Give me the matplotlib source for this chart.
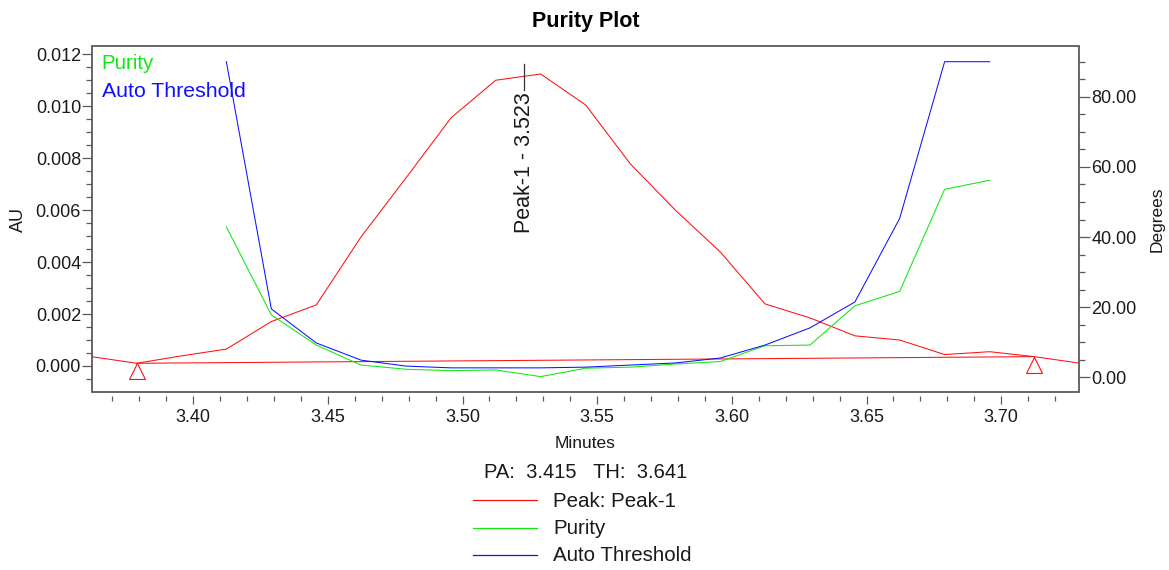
import matplotlib
matplotlib.use('Agg')
import matplotlib.pyplot as plt
from matplotlib.path import Path
from matplotlib.lines import Line2D
from matplotlib.patches import Rectangle
from matplotlib.ticker import MultipleLocator, FormatStrFormatter

plt.rcParams['font.family'] = ['Liberation Sans', 'DejaVu Sans']

# ---------------- data ----------------
times = [3.3623, 3.3790, 3.3957, 3.4123, 3.4290, 3.4457, 3.4623, 3.4790,
         3.4957, 3.5123, 3.5290, 3.5457, 3.5623, 3.5790, 3.5957, 3.6123,
         3.6290, 3.6457, 3.6623, 3.6790, 3.6957, 3.7123, 3.7290]
peak_au = [0.000358, 0.000104, 0.00039, 0.00065, 0.00171, 0.00235, 0.00497,
           0.00724, 0.00955, 0.01100, 0.01124, 0.01005, 0.00778, 0.00600,
           0.00439, 0.00239, 0.00185, 0.00116, 0.00100, 0.00044, 0.00055,
           0.00036, 0.00011]
purity_times = times[3:21]
purity_deg = [42.9, 17.8, 9.2, 3.5, 2.3, 1.9, 2.1, 0.2, 2.6, 2.9, 3.8, 4.5,
              9.0, 9.2, 20.4, 24.5, 53.6, 56.2]
threshold_deg = [90.0, 19.5, 9.8, 4.9, 3.2, 2.7, 2.7, 2.7, 2.9, 3.5, 4.1, 5.5,
                 9.2, 14.1, 21.5, 45.3, 90.0, 90.0]
peak_start_idx = 1
peak_end_idx = 21
peak_name = 'Peak-1'
peak_rt = 3.523
pa_value = 3.415
th_value = 3.641

RED = '#FF1010'
GREEN = '#10E810'
BLUE = '#1010FF'
FRAME = '#5a5a5a'
TXT = '#1a1a1a'

W, H = 1169, 570
fig = plt.figure(figsize=(W / 100, H / 100), dpi=100)
L, R, T, B = 91.7, 1079.3, 45.7, 391.7
ax = fig.add_axes([L / W, 1 - B / H, (R - L) / W, (B - T) / H])
ax2 = ax.twinx()

# peak chromatogram + baseline + start/end markers
ax.plot(times, peak_au, color=RED, lw=0.75)
ax.plot([times[peak_start_idx], times[peak_end_idx]],
        [peak_au[peak_start_idx], peak_au[peak_end_idx]], color=RED, lw=0.75)
tri = Path([(0, 0), (-0.5, -1), (0.5, -1), (0, 0)],
           [Path.MOVETO, Path.LINETO, Path.LINETO, Path.CLOSEPOLY])
ax.plot([times[peak_start_idx], times[peak_end_idx]],
        [peak_au[peak_start_idx], peak_au[peak_end_idx]], ls='none',
        marker=tri, markersize=23, markerfacecolor='none',
        markeredgecolor=RED, markeredgewidth=0.8)

ax2.plot(purity_times, purity_deg, color=GREEN, lw=0.75)
ax2.plot(purity_times, threshold_deg, color=BLUE, lw=0.75)

ax.set_xlim(times[0], times[-1])
ax.set_ylim(-0.00099, 0.01233)
ax2.set_ylim(-4.1, 94.56)

for a in (ax, ax2):
    for s in a.spines.values():
        s.set_visible(False)
ax.spines['bottom'].set_position(('outward', 3))
ax2.add_patch(Rectangle((0, 0), 1, 1, transform=ax2.transAxes, fill=False,
                        edgecolor=FRAME, lw=1.3, clip_on=False, zorder=5))

ax.xaxis.set_major_locator(MultipleLocator(0.05))
ax.xaxis.set_minor_locator(MultipleLocator(0.01))
ax.xaxis.set_major_formatter(FormatStrFormatter('%.2f'))
ax.yaxis.set_major_locator(MultipleLocator(0.002))
ax.yaxis.set_minor_locator(MultipleLocator(0.0005))
ax.yaxis.set_major_formatter(FormatStrFormatter('%.3f'))
ax2.yaxis.set_major_locator(MultipleLocator(20))
ax2.yaxis.set_minor_locator(MultipleLocator(5))
ax2.yaxis.set_major_formatter(FormatStrFormatter('%.2f'))

ax.tick_params(axis='x', which='major', direction='out', length=5.8, width=0.9,
               color=FRAME, pad=3.5, labelsize=13, labelcolor=TXT)
ax.tick_params(axis='x', which='minor', direction='out', length=3.6, width=0.9,
               color=FRAME)
ax.tick_params(axis='y', which='major', direction='out', length=7.2, width=0.9,
               color=FRAME, pad=0.5, labelsize=13, labelcolor=TXT)
ax.tick_params(axis='y', which='minor', direction='out', length=4.3, width=0.9,
               color=FRAME)
ax2.tick_params(axis='y', which='major', direction='out', length=8.0, width=0.9,
                color=FRAME, pad=0.7, labelsize=13, labelcolor=TXT)
ax2.tick_params(axis='y', which='minor', direction='out', length=4.3, width=0.9,
                color=FRAME)

# peak label
ax.plot([peak_rt, peak_rt], [0.947, 0.872], color='#333333', lw=0.9,
        transform=ax.get_xaxis_transform(), clip_on=False)
ax.text(peak_rt, 0.866, f'{peak_name} - {peak_rt:.3f}', rotation=90,
        ha='center', va='top', fontsize=15.5, color=TXT,
        transform=ax.get_xaxis_transform())

# in-axes series labels
fig.text(101.7 / W, 1 - 69.3 / H, 'Purity', color=GREEN, fontsize=14.8,
         ha='left', va='baseline')
fig.text(101.7 / W, 1 - 96.7 / H, 'Auto Threshold', color=BLUE, fontsize=15.3,
         ha='left', va='baseline')

# titles / axis labels
fig.text(585.5 / W, 1 - 26.7 / H, 'Purity Plot', fontsize=15.5,
         fontweight='bold', ha='center', va='baseline', color='black')
fig.text(18.3 / W, 1 - 220 / H, 'AU', rotation=90, fontsize=13,
         ha='center', va='center', color=TXT)
fig.text(1156.7 / W, 1 - 219 / H, 'Degrees', rotation=90, fontsize=12.5,
         ha='center', va='center', color=TXT)
fig.text(585 / W, 1 - 448.3 / H, 'Minutes', fontsize=12.5,
         ha='center', va='baseline', color=TXT)

# bottom info + legend
fig.text(585.8 / W, 1 - 478.3 / H,
         f'PA:  {pa_value:.3f}   TH:  {th_value:.3f}', fontsize=14.5,
         ha='center', va='baseline', color=TXT)
legend_items = [(f'Peak: {peak_name}', RED, 500, 506.7),
                ('Purity', GREEN, 528, 533.7),
                ('Auto Threshold', BLUE, 555.3, 561.0)]
for label, col, ly, ty in legend_items:
    fig.add_artist(Line2D([473.3 / W, 537.3 / W], [1 - ly / H, 1 - ly / H],
                          color=col, lw=0.9, transform=fig.transFigure))
    fig.text(553.3 / W, 1 - ty / H, label, fontsize=14.8, ha='left',
             va='baseline', color=TXT)

fig.savefig('out.png', dpi=100, facecolor='white')
